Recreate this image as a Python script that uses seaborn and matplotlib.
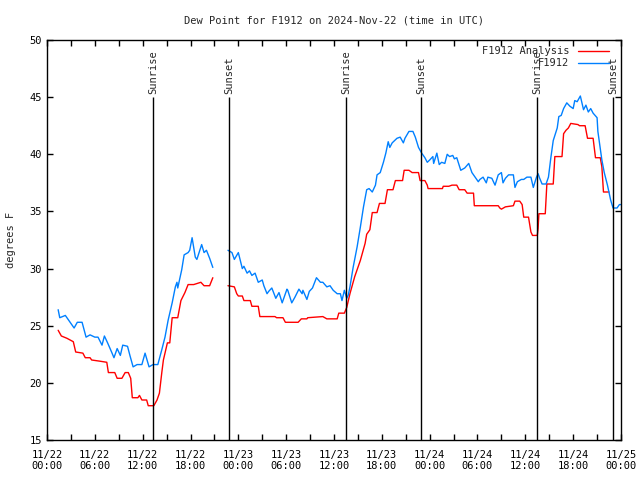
import numpy as np
import pandas as pd
import seaborn as sns
import matplotlib.pyplot as plt

# hours after 2024-11-22 00:00 UTC
obs_hours_a = [1.4, 1.6, 2.3, 2.9, 3.4, 3.8, 4.4, 4.9, 5.4, 6.0, 6.4, 6.9, 7.2, 7.6, 8.1, 8.4,
               8.8, 9.2, 9.5, 10.1, 10.4, 10.8, 11.3, 11.9, 12.3, 12.8, 13.3, 13.9, 14.4, 14.8,
               15.2, 15.7, 16.1, 16.3, 16.4, 16.9, 17.2, 17.7, 17.9, 18.2, 18.6, 18.8, 19.4,
               19.7, 20.0, 20.4, 20.8]
obs_vals_a = [26.4, 25.7, 25.9, 25.3, 24.8, 25.3, 25.3, 24.0, 24.2, 24.0, 24.0, 23.3, 24.1, 23.5,
              22.7, 22.2, 23.0, 22.4, 23.3, 23.2, 22.4, 21.4, 21.6, 21.6, 22.6, 21.4, 21.6, 21.6,
              22.9, 24.0, 25.5, 27.0, 28.4, 28.8, 28.3, 29.9, 31.2, 31.4, 31.6, 32.7, 31.0, 30.8,
              32.1, 31.4, 31.6, 30.9, 30.1]

obs_hours_b = [22.7, 23.2, 23.5, 24.0, 24.5, 24.7, 25.1, 25.4, 25.7, 26.1, 26.5, 27.0, 27.2, 27.6,
               27.8, 28.2, 28.7, 29.1, 29.5, 30.1, 30.2, 30.7, 31.1, 31.6, 32.0, 32.1, 32.6, 32.9,
               33.3, 33.8, 34.3, 34.6, 35.1, 35.5, 35.9, 36.4, 36.8, 37.0, 37.3, 37.6, 37.8, 38.0,
               38.4, 38.9, 39.3, 39.7, 40.1, 40.4, 40.8, 41.2, 41.4, 41.8, 42.2, 42.5, 42.8, 43.0,
               43.3, 43.9, 44.3, 44.7, 44.9, 45.4, 45.9, 46.2, 46.6, 47.0, 47.4, 47.7, 48.0, 48.4,
               48.5, 48.9, 49.2, 49.5, 49.9, 50.2, 50.5, 50.9, 51.1, 51.4, 51.9, 52.4, 52.9, 53.3,
               53.7, 54.1, 54.3, 54.7, 55.1, 55.3, 55.8, 56.2, 56.6, 57.0, 57.2, 57.5, 57.9, 58.5,
               58.7, 59.0, 59.5, 59.8, 60.2, 60.7, 61.0, 61.4, 61.6, 61.8, 62.1, 62.6, 62.9, 63.2,
               63.5, 64.0, 64.2, 64.5, 64.8, 65.2, 65.6, 66.0, 66.2, 66.5, 66.9, 67.3, 67.6, 67.9,
               68.2, 68.5, 69.0, 69.1, 69.4, 69.6, 69.9, 70.3, 70.7, 71.0, 71.5, 71.8, 72.0]
obs_vals_b = [31.6, 31.4, 30.8, 31.4, 30.0, 30.2, 29.6, 29.8, 29.4, 29.6, 28.8, 29.0, 28.5, 27.8,
              28.0, 28.3, 27.4, 27.9, 27.0, 28.2, 28.1, 27.0, 27.5, 28.2, 27.8, 28.1, 27.3, 28.0,
              28.3, 29.2, 28.8, 28.8, 28.4, 28.5, 28.1, 27.8, 27.8, 27.2, 28.1, 27.4, 27.7, 28.4,
              30.1, 31.9, 33.6, 35.4, 36.9, 37.0, 36.7, 37.3, 38.2, 38.4, 39.3, 40.1, 41.1, 40.6,
              41.0, 41.4, 41.5, 41.0, 41.4, 42.0, 42.0, 41.5, 40.6, 40.1, 39.7, 39.3, 39.5, 39.8,
              39.2, 40.1, 39.1, 39.3, 39.2, 40.0, 39.8, 39.9, 39.6, 39.7, 38.6, 38.8, 39.2, 38.4,
              38.0, 37.6, 37.8, 38.0, 37.5, 38.0, 37.9, 37.3, 38.2, 38.4, 37.5, 37.9, 38.2, 38.2,
              37.1, 37.6, 37.8, 37.8, 38.0, 38.0, 37.1, 38.0, 38.3, 37.9, 37.4, 37.4, 38.0, 39.7,
              41.2, 42.3, 43.3, 43.4, 44.0, 44.5, 44.2, 44.0, 44.7, 44.6, 45.1, 43.9, 44.3, 43.7,
              44.0, 43.6, 43.2, 42.0, 40.5, 39.5, 38.4, 37.3, 36.0, 35.3, 35.3, 35.6, 35.6]

ana_hours_a = [1.4, 1.8, 2.5, 3.3, 3.6, 4.5, 4.8, 5.4, 5.6, 6.6, 7.5, 7.7, 8.5, 8.8, 9.4, 9.8,
               10.2, 10.5, 10.7, 11.4, 11.6, 11.9, 12.5, 12.7, 13.4, 13.8, 14.1, 14.4, 14.6, 15.1,
               15.4, 15.7, 16.4, 16.8, 17.3, 17.7, 18.4, 19.3, 19.7, 20.4, 20.8]
ana_vals_a = [24.6, 24.1, 23.9, 23.6, 22.7, 22.6, 22.2, 22.2, 22.0, 21.9, 21.8, 20.9, 20.9, 20.4,
              20.4, 20.9, 20.9, 20.4, 18.7, 18.7, 18.9, 18.5, 18.5, 18.0, 18.0, 18.5, 19.1, 20.9,
              22.0, 23.5, 23.5, 25.7, 25.7, 27.2, 27.9, 28.6, 28.6, 28.8, 28.5, 28.5, 29.2]

ana_hours_b = [22.7, 23.5, 23.8, 24.0, 24.5, 24.7, 25.5, 25.7, 26.5, 26.7, 27.6, 28.6, 28.8, 29.6,
               29.9, 31.5, 31.9, 32.6, 32.7, 34.6, 35.1, 36.4, 36.6, 37.3, 37.6, 38.0, 38.6, 39.3,
               39.9, 40.1, 40.5, 40.8, 41.4, 41.7, 42.4, 42.7, 43.4, 43.7, 44.6, 44.8, 45.4, 45.8,
               46.6, 46.8, 47.4, 47.7, 47.8, 48.7, 49.6, 49.7, 50.4, 50.8, 51.4, 51.7, 52.4, 52.7,
               53.5, 53.6, 54.3, 56.6, 56.8, 57.0, 57.5, 58.5, 58.7, 59.3, 59.6, 59.8, 60.4, 60.7,
               60.9, 61.5, 61.6, 61.7, 62.5, 62.7, 63.5, 63.7, 64.6, 64.8, 65.1, 65.4, 65.7, 66.6,
               66.8, 67.5, 67.8, 68.5, 68.8, 69.4, 69.6, 69.8, 70.5]
ana_vals_b = [28.5, 28.4, 27.8, 27.6, 27.6, 27.2, 27.2, 26.7, 26.7, 25.8, 25.8, 25.8, 25.7, 25.7,
              25.3, 25.3, 25.6, 25.6, 25.7, 25.8, 25.6, 25.6, 26.1, 26.1, 26.6, 27.8, 29.3, 30.7,
              32.2, 33.0, 33.4, 34.9, 34.9, 35.7, 35.7, 36.9, 36.9, 37.7, 37.7, 38.6, 38.6, 38.4,
              38.4, 37.7, 37.7, 37.3, 37.0, 37.0, 37.0, 37.2, 37.2, 37.3, 37.3, 36.9, 36.9, 36.6,
              36.6, 35.5, 35.5, 35.5, 35.3, 35.2, 35.4, 35.5, 35.9, 35.9, 35.6, 34.5, 34.5, 33.2,
              32.9, 32.9, 33.5, 34.8, 34.8, 37.4, 37.4, 39.8, 39.8, 41.8, 42.1, 42.3, 42.7, 42.6,
              42.5, 42.5, 41.4, 41.4, 39.7, 39.7, 38.9, 36.7, 36.7]

sunrise_hours = [13.3, 37.5, 61.5]
sunset_hours = [22.8, 46.9, 71.0]

tick_hours = list(range(0, 73, 6))
tick_labels = ["11/22\n00:00", "11/22\n06:00", "11/22\n12:00", "11/22\n18:00",
               "11/23\n00:00", "11/23\n06:00", "11/23\n12:00", "11/23\n18:00",
               "11/24\n00:00", "11/24\n06:00", "11/24\n12:00", "11/24\n18:00",
               "11/25\n00:00"]

parts = [
    ("F1912 Analysis", "ana_a", ana_hours_a, ana_vals_a),
    ("F1912 Analysis", "ana_b", ana_hours_b, ana_vals_b),
    ("F1912", "obs_a", obs_hours_a, obs_vals_a),
    ("F1912", "obs_b", obs_hours_b, obs_vals_b),
]
df = pd.concat([pd.DataFrame({"hour": h, "dewpoint": v, "series": name, "seg": seg})
                for name, seg, h, v in parts], ignore_index=True)

sns.set_theme(style="ticks")
plt.rcParams["font.family"] = ["DejaVu Sans Mono"]
plt.rcParams["font.size"] = 7.5

fig = plt.figure(figsize=(6.4, 4.8), dpi=100)
ax = fig.add_axes([47 / 640, 40 / 480, 574 / 640, 400 / 480])

palette = {"F1912 Analysis": "#ff0000", "F1912": "#0080ff"}

sns.lineplot(data=df, x="hour", y="dewpoint", hue="series", units="seg",
             estimator=None, sort=False, palette=palette, linewidth=1.0, ax=ax)

for h in sunrise_hours:
    ax.vlines(h, 15, 45, color="black", linewidth=1.0)
    ax.text(h, 45.3, "Sunrise", rotation=90, ha="center", va="bottom", fontsize=7.5)
for h in sunset_hours:
    ax.vlines(h, 15, 45, color="black", linewidth=1.0)
    ax.text(h, 45.3, "Sunset", rotation=90, ha="center", va="bottom", fontsize=7.5)

ax.set_xlim(0, 72)
ax.set_ylim(15, 50)
ax.set_xticks(tick_hours)
ax.set_xticklabels(tick_labels)
ax.set_xticks(range(3, 72, 6), minor=True)
ax.set_yticks(range(15, 51, 5))
ax.tick_params(axis="both", which="both", direction="in", top=True, right=True,
               length=4, width=1, labelsize=7.5, colors="black")
ax.tick_params(axis="x", pad=7)
for s in ax.spines.values():
    s.set_linewidth(1.0)
    s.set_color("black")

ax.set_xlabel("")
ax.set_ylabel("degrees F", fontsize=7.5, labelpad=10)
ax.set_title("Dew Point for F1912 on 2024-Nov-22 (time in UTC)", fontsize=7.5, pad=12)

leg = ax.legend(title=None, loc="upper right", frameon=False, markerfirst=False,
                handlelength=3.0, handletextpad=0.8, labelspacing=0.2,
                borderaxespad=0.2, bbox_to_anchor=(0.99, 1.0), fontsize=7.5)
try:
    leg._legend_box._children[-1]._children[0].align = "right"
except Exception:
    pass

fig.savefig("out.png", dpi=100)
